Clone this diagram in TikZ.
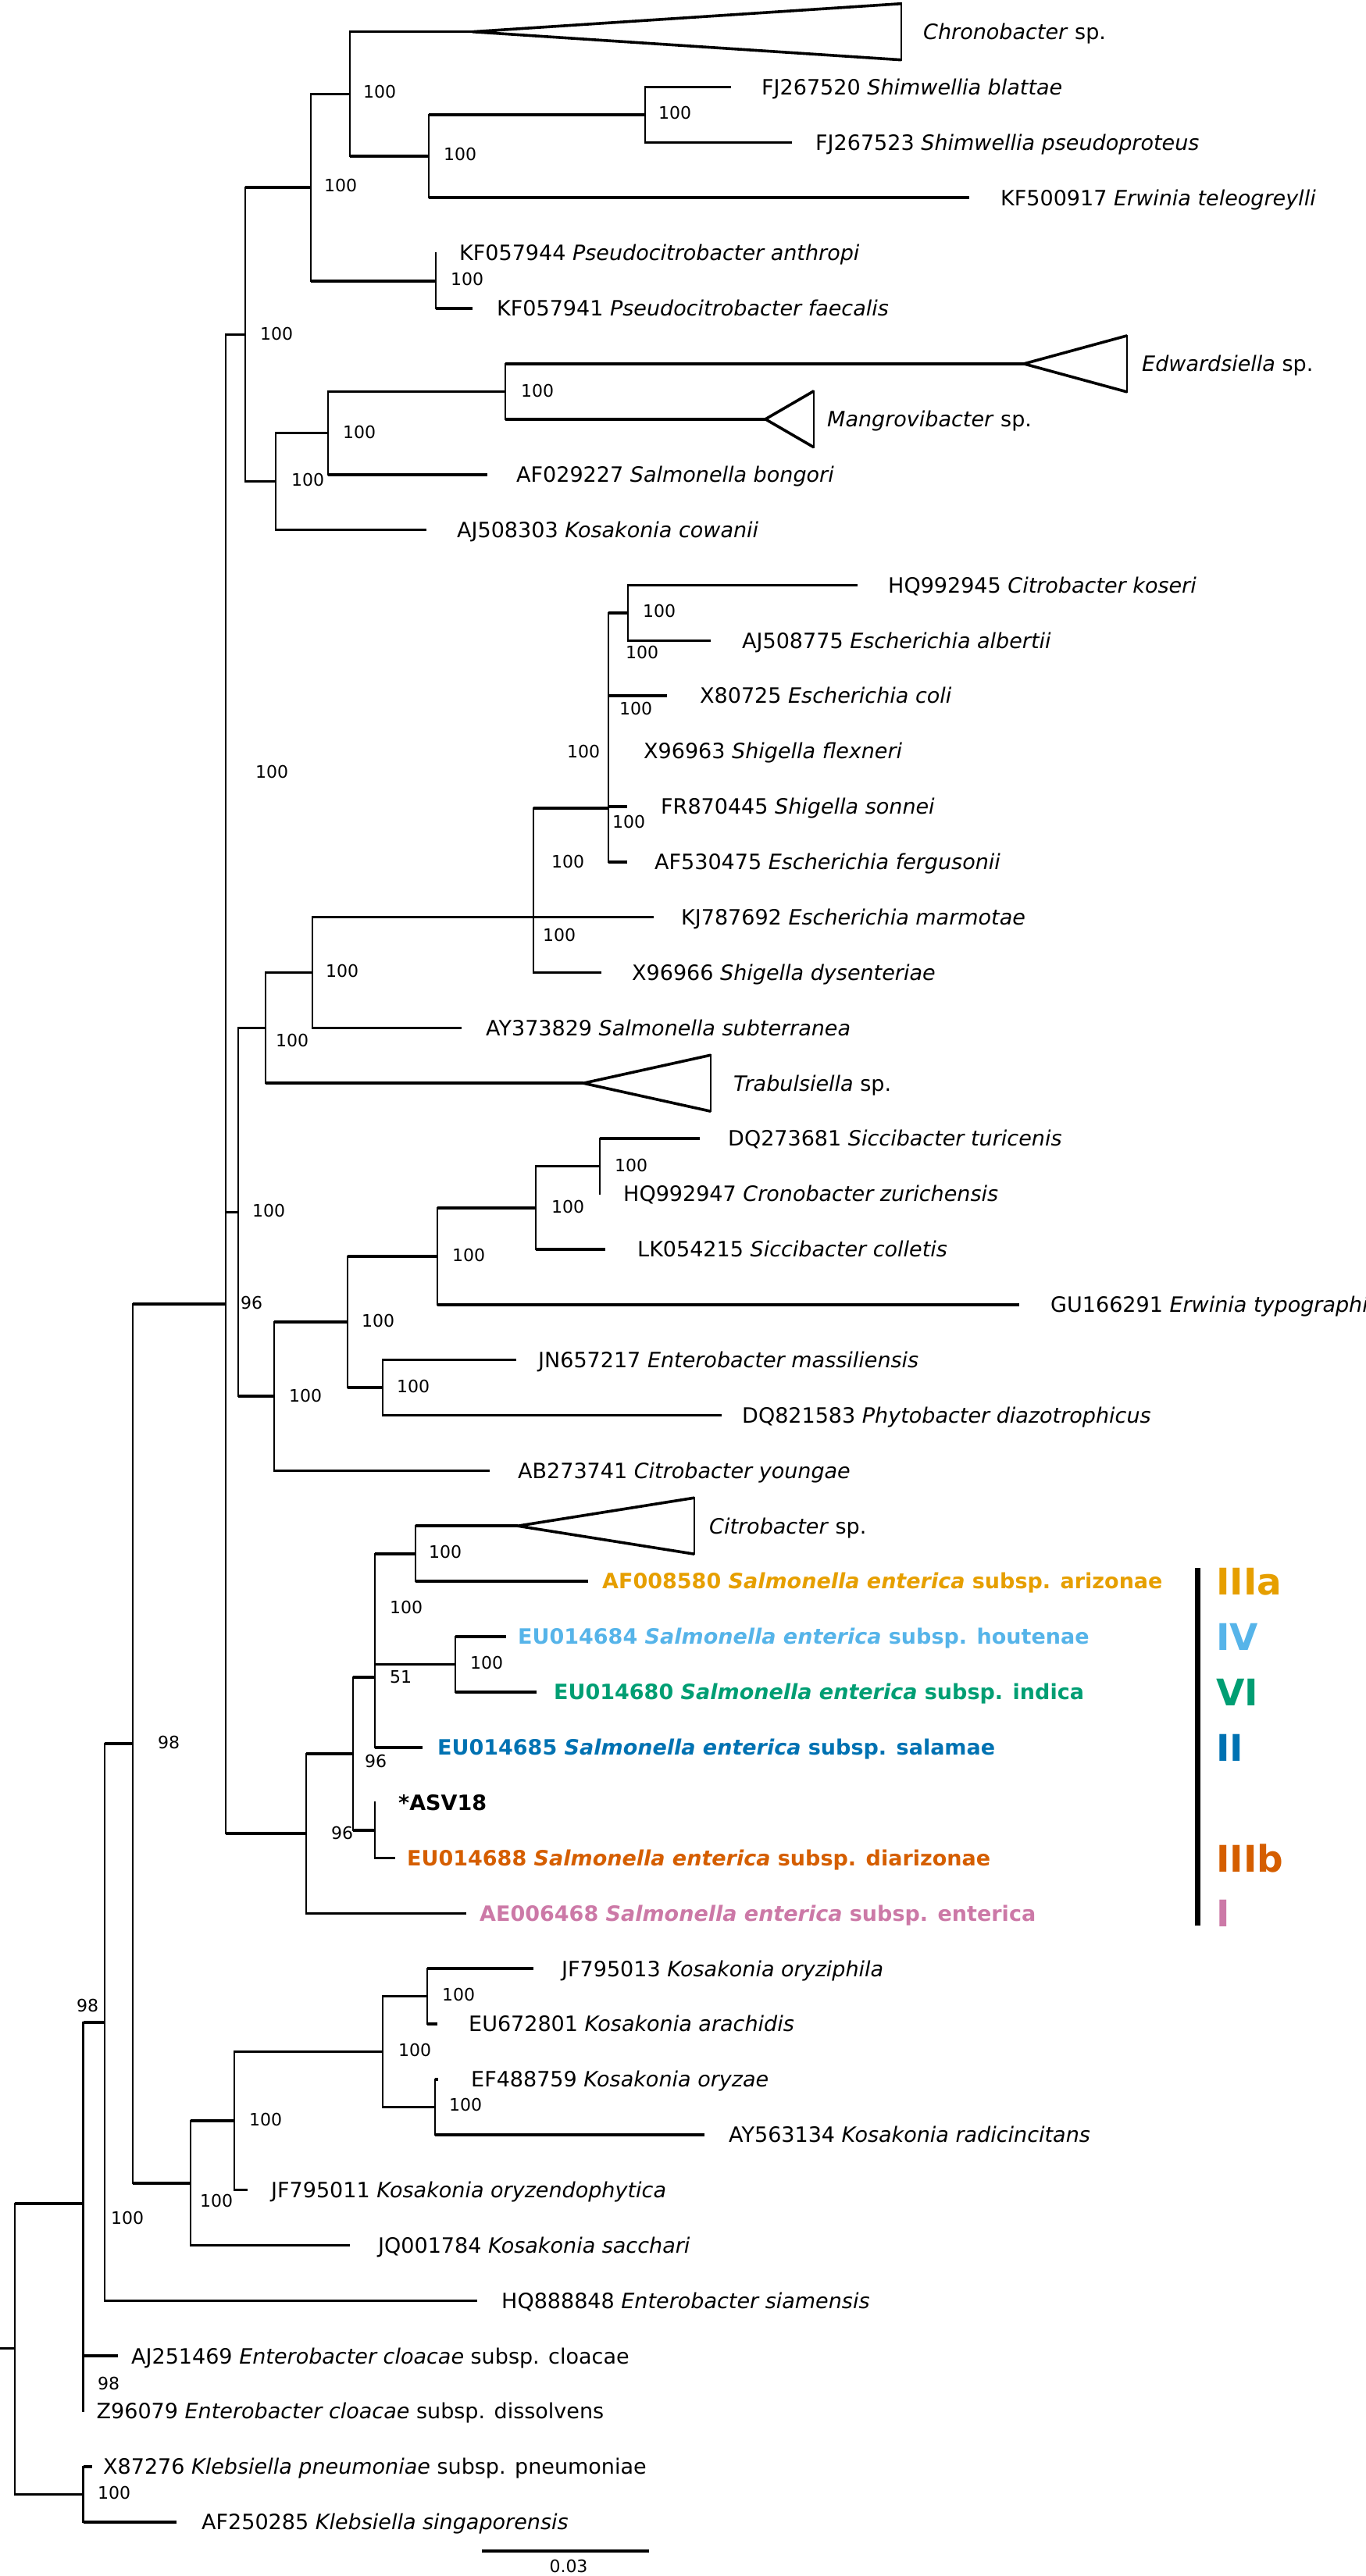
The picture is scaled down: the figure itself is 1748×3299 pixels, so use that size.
\documentclass[tikz,border=0pt]{standalone}
\usepackage{fontspec}
\setmainfont{DejaVu Sans}[ItalicFont={DejaVu Sans Oblique},BoldFont={DejaVu Sans Bold},BoldItalicFont={DejaVu Sans Bold Oblique}]
\usetikzlibrary{positioning}

\definecolor{cIIIa}{HTML}{E69F00}
\definecolor{cIV}{HTML}{56B4E9}
\definecolor{cVI}{HTML}{009E73}
\definecolor{cII}{HTML}{0072B2}
\definecolor{cIIIb}{HTML}{D55E00}
\definecolor{cI}{HTML}{CC79A7}

\newcommand\tipfont{\fontsize{27}{32}\selectfont}
\newcommand\bsfont{\fontsize{22}{26}\selectfont}
\newcommand\sent{\textit{Salmonella enterica} subsp.}

\tikzset{
  hbr/.style={line width=3.6pt},
  vbr/.style={line width=2.4pt,line cap=rect},
  tip/.style={anchor=base west,inner sep=0pt,yshift=-9.8pt,font=\tipfont},
  sal/.style={tip,font=\tipfont\bfseries},
  bs/.style={anchor=base west,inner sep=0pt,yshift=-8pt,font=\bsfont},
  grp/.style={anchor=base west,inner sep=0pt,yshift=-17pt,font=\fontsize{47}{52}\selectfont\bfseries},
}

\begin{document}
\begin{tikzpicture}[x=1pt,y=-1pt]
  \useasboundingbox (0,0) rectangle (1748,3299);

  % tips
  \coordinate (chronoB) at (1154,40.7);
  \coordinate (chronoA) at (605,40.7);
  \coordinate (FJ267520) at (936,111.6);
  \coordinate (FJ267523) at (1014,182.4);
  \coordinate (KF500917) at (1241,253.3);
  \coordinate (KF057944) at (558,324.2);
  \coordinate (KF057941) at (605,395.1);
  \coordinate (edwA) at (1311,465.9);
  \coordinate (edwB) at (1443,465.9);
  \coordinate (mangA) at (980,536.8);
  \coordinate (mangB) at (1042,536.8);
  \coordinate (AF029227) at (624,607.7);
  \coordinate (AJ508303) at (546,678.5);
  \coordinate (HQ992945) at (1098,749.4);
  \coordinate (AJ508775) at (910,820.3);
  \coordinate (X80725) at (854,891.1);
  \coordinate (X96963) at (779,962.0);
  \coordinate (FR870445) at (803,1032.9);
  \coordinate (AF530475) at (803,1103.8);
  \coordinate (KJ787692) at (837,1174.6);
  \coordinate (X96966) at (770,1245.5);
  \coordinate (AY373829) at (591,1316.4);
  \coordinate (trabA) at (747,1387.2);
  \coordinate (trabB) at (910,1387.2);
  \coordinate (DQ273681) at (896,1458.1);
  \coordinate (HQ992947) at (768,1529.0);
  \coordinate (LK054215) at (775,1599.8);
  \coordinate (GU166291) at (1305,1670.7);
  \coordinate (JN657217) at (661,1741.6);
  \coordinate (DQ821583) at (924,1812.5);
  \coordinate (AB273741) at (627,1883.3);
  \coordinate (citA) at (663,1954.2);
  \coordinate (citB) at (889,1954.2);
  \coordinate (AF008580) at (753,2025.1);
  \coordinate (EU014684) at (648,2095.9);
  \coordinate (EU014680) at (687,2166.8);
  \coordinate (EU014685) at (541,2237.7);
  \coordinate (ASV18) at (480,2308.5);
  \coordinate (EU014688) at (506,2379.4);
  \coordinate (AE006468) at (597,2450.3);
  \coordinate (JF795013) at (683,2521.2);
  \coordinate (EU672801) at (560,2592.0);
  \coordinate (EF488759) at (561,2662.9);
  \coordinate (AY563134) at (902,2733.8);
  \coordinate (JF795011) at (317,2804.6);
  \coordinate (JQ001784) at (448,2875.5);
  \coordinate (HQ888848) at (611,2946.4);
  \coordinate (AJ251469) at (151,3017.2);
  \coordinate (Z96079) at (106.5,3088.1);
  \coordinate (X87276) at (118,3159.0);
  \coordinate (AF250285) at (226,3229.9);

  % inner nodes
  \coordinate (nShim2) at (826,147.0);
  \coordinate (nShim1) at (549,200.2);
  \coordinate (nChro) at (448,120.4);
  \coordinate (nPseu) at (558,359.7);
  \coordinate (nUp2) at (398,240.0);
  \coordinate (nEdw3) at (647,501.4);
  \coordinate (nEdw2) at (420,554.5);
  \coordinate (nEdw1) at (353,616.5);
  \coordinate (nUp1) at (314,428.3);
  \coordinate (nEsc5) at (804,784.9);
  \coordinate (nEsc4) at (779,1035);
  \coordinate (nEsc3) at (683,1174.6);
  \coordinate (nEsc2) at (400,1245.5);
  \coordinate (nEsc1) at (340,1316.4);
  \coordinate (nSic5) at (768,1493.6);
  \coordinate (nSic4) at (686,1546.7);
  \coordinate (nSic3) at (560,1608.7);
  \coordinate (nEbm) at (490,1777.1);
  \coordinate (nSic2) at (445,1692.9);
  \coordinate (nSic1) at (351,1788.1);
  \coordinate (nMid) at (305,1552.3);
  \coordinate (nSal4) at (532,1989.7);
  \coordinate (nSal5) at (583,2131.4);
  \coordinate (nSal3) at (480,2148);
  \coordinate (nSal6) at (480,2344.0);
  \coordinate (nSal2) at (452,2246);
  \coordinate (nSal1) at (392,2348.2);
  \coordinate (nBig) at (289,1670);
  \coordinate (nKos4) at (547,2556.6);
  \coordinate (nKos5) at (557,2698.4);
  \coordinate (nKos3) at (490,2627.5);
  \coordinate (nKos2) at (300,2716.1);
  \coordinate (nKos1) at (244,2795.8);
  \coordinate (nEnt3) at (170,2232.9);
  \coordinate (nEnt2) at (134,2590);
  \coordinate (nEnt1) at (106.5,2821.7);
  \coordinate (nKleb) at (106.5,3194.5);
  \coordinate (nRoot) at (19,3007.5);

  % branches
  \draw[hbr] (nRoot) -- ++(-19,0);
  \draw[vbr] (nRoot |- nEnt1) -- (nRoot |- nKleb);
  \draw[hbr] (nRoot |- nEnt1) -- (nEnt1) (nRoot |- nKleb) -- (nKleb);
  \draw[vbr] (nKleb |- X87276) -- (nKleb |- AF250285);
  \draw[hbr] (nKleb |- X87276) -- (X87276) (nKleb |- AF250285) -- (AF250285);
  \draw[vbr] (nEnt1 |- nEnt2) -- (nEnt1 |- Z96079);
  \draw[hbr] (nEnt1 |- nEnt2) -- (nEnt2) (nEnt1 |- AJ251469) -- (AJ251469);
  \draw[vbr] (nEnt2 |- nEnt3) -- (nEnt2 |- HQ888848);
  \draw[hbr] (nEnt2 |- nEnt3) -- (nEnt3) (nEnt2 |- HQ888848) -- (HQ888848);
  \draw[vbr] (nEnt3 |- nBig) -- (nEnt3 |- nKos1);
  \draw[hbr] (nEnt3 |- nBig) -- (nBig) (nEnt3 |- nKos1) -- (nKos1);
  \draw[vbr] (nKos1 |- nKos2) -- (nKos1 |- JQ001784);
  \draw[hbr] (nKos1 |- nKos2) -- (nKos2) (nKos1 |- JQ001784) -- (JQ001784);
  \draw[vbr] (nKos2 |- nKos3) -- (nKos2 |- JF795011);
  \draw[hbr] (nKos2 |- nKos3) -- (nKos3) (nKos2 |- JF795011) -- (JF795011);
  \draw[vbr] (nKos3 |- nKos4) -- (nKos3 |- nKos5);
  \draw[hbr] (nKos3 |- nKos4) -- (nKos4) (nKos3 |- nKos5) -- (nKos5);
  \draw[vbr] (nKos4 |- JF795013) -- (nKos4 |- EU672801);
  \draw[hbr] (nKos4 |- JF795013) -- (JF795013) (nKos4 |- EU672801) -- (EU672801);
  \draw[vbr] (nKos5 |- EF488759) -- (nKos5 |- AY563134);
  \draw[hbr] (nKos5 |- EF488759) -- (EF488759) (nKos5 |- AY563134) -- (AY563134);
  \draw[vbr] (nBig |- nUp1) -- (nBig |- nSal1);
  \draw[hbr] (nBig |- nUp1) -- (nUp1) (nBig |- nMid) -- (nMid) (nBig |- nSal1) -- (nSal1);
  \draw[vbr] (nUp1 |- nUp2) -- (nUp1 |- nEdw1);
  \draw[hbr] (nUp1 |- nUp2) -- (nUp2) (nUp1 |- nEdw1) -- (nEdw1);
  \draw[vbr] (nUp2 |- nChro) -- (nUp2 |- nPseu);
  \draw[hbr] (nUp2 |- nChro) -- (nChro) (nUp2 |- nPseu) -- (nPseu);
  \draw[vbr] (nChro |- chronoA) -- (nChro |- nShim1);
  \draw[hbr] (nChro |- chronoA) -- (chronoA) (nChro |- nShim1) -- (nShim1);
  \draw[vbr] (nShim1 |- nShim2) -- (nShim1 |- KF500917);
  \draw[hbr] (nShim1 |- nShim2) -- (nShim2) (nShim1 |- KF500917) -- (KF500917);
  \draw[vbr] (nShim2 |- FJ267520) -- (nShim2 |- FJ267523);
  \draw[hbr] (nShim2 |- FJ267520) -- (FJ267520) (nShim2 |- FJ267523) -- (FJ267523);
  \draw[vbr] (nPseu |- KF057944) -- (nPseu |- KF057941);
  \draw[hbr] (nPseu |- KF057941) -- (KF057941);
  \draw[vbr] (nEdw1 |- nEdw2) -- (nEdw1 |- AJ508303);
  \draw[hbr] (nEdw1 |- nEdw2) -- (nEdw2) (nEdw1 |- AJ508303) -- (AJ508303);
  \draw[vbr] (nEdw2 |- nEdw3) -- (nEdw2 |- AF029227);
  \draw[hbr] (nEdw2 |- nEdw3) -- (nEdw3) (nEdw2 |- AF029227) -- (AF029227);
  \draw[vbr] (nEdw3 |- edwA) -- (nEdw3 |- mangA);
  \draw[hbr] (nEdw3 |- edwA) -- (edwA) (nEdw3 |- mangA) -- (mangA);
  \draw[vbr] (nMid |- nEsc1) -- (nMid |- nSic1);
  \draw[hbr] (nMid |- nEsc1) -- (nEsc1) (nMid |- nSic1) -- (nSic1);
  \draw[vbr] (nEsc1 |- nEsc2) -- (nEsc1 |- trabA);
  \draw[hbr] (nEsc1 |- nEsc2) -- (nEsc2) (nEsc1 |- trabA) -- (trabA);
  \draw[vbr] (nEsc2 |- nEsc3) -- (nEsc2 |- AY373829);
  \draw[hbr] (nEsc2 |- nEsc3) -- (nEsc3) (nEsc2 |- AY373829) -- (AY373829);
  \draw[vbr] (nEsc3 |- nEsc4) -- (nEsc3 |- X96966);
  \draw[hbr] (nEsc3 |- nEsc4) -- (nEsc4) (nEsc3 |- KJ787692) -- (KJ787692) (nEsc3 |- X96966) -- (X96966);
  \draw[vbr] (nEsc4 |- nEsc5) -- (nEsc4 |- AF530475);
  \draw[hbr] (nEsc4 |- nEsc5) -- (nEsc5) (nEsc4 |- X80725) -- (X80725) (nEsc4 |- FR870445) -- (FR870445) (nEsc4 |- AF530475) -- (AF530475);
  \draw[vbr] (nEsc5 |- HQ992945) -- (nEsc5 |- AJ508775);
  \draw[hbr] (nEsc5 |- HQ992945) -- (HQ992945) (nEsc5 |- AJ508775) -- (AJ508775);
  \draw[vbr] (nSic1 |- nSic2) -- (nSic1 |- AB273741);
  \draw[hbr] (nSic1 |- nSic2) -- (nSic2) (nSic1 |- AB273741) -- (AB273741);
  \draw[vbr] (nSic2 |- nSic3) -- (nSic2 |- nEbm);
  \draw[hbr] (nSic2 |- nSic3) -- (nSic3) (nSic2 |- nEbm) -- (nEbm);
  \draw[vbr] (nSic3 |- nSic4) -- (nSic3 |- GU166291);
  \draw[hbr] (nSic3 |- nSic4) -- (nSic4) (nSic3 |- GU166291) -- (GU166291);
  \draw[vbr] (nSic4 |- nSic5) -- (nSic4 |- LK054215);
  \draw[hbr] (nSic4 |- nSic5) -- (nSic5) (nSic4 |- LK054215) -- (LK054215);
  \draw[vbr] (nSic5 |- DQ273681) -- (nSic5 |- HQ992947);
  \draw[hbr] (nSic5 |- DQ273681) -- (DQ273681);
  \draw[vbr] (nEbm |- JN657217) -- (nEbm |- DQ821583);
  \draw[hbr] (nEbm |- JN657217) -- (JN657217) (nEbm |- DQ821583) -- (DQ821583);
  \draw[vbr] (nSal1 |- nSal2) -- (nSal1 |- AE006468);
  \draw[hbr] (nSal1 |- nSal2) -- (nSal2) (nSal1 |- AE006468) -- (AE006468);
  \draw[vbr] (nSal2 |- nSal3) -- (nSal2 |- nSal6);
  \draw[hbr] (nSal2 |- nSal3) -- (nSal3) (nSal2 |- nSal6) -- (nSal6);
  \draw[vbr] (nSal3 |- nSal4) -- (nSal3 |- EU014685);
  \draw[hbr] (nSal3 |- nSal4) -- (nSal4) (nSal3 |- nSal5) -- (nSal5) (nSal3 |- EU014685) -- (EU014685);
  \draw[vbr] (nSal4 |- citA) -- (nSal4 |- AF008580);
  \draw[hbr] (nSal4 |- citA) -- (citA) (nSal4 |- AF008580) -- (AF008580);
  \draw[vbr] (nSal5 |- EU014684) -- (nSal5 |- EU014680);
  \draw[hbr] (nSal5 |- EU014684) -- (EU014684) (nSal5 |- EU014680) -- (EU014680);
  \draw[vbr] (nSal6 |- ASV18) -- (nSal6 |- EU014688);
  \draw[hbr] (nSal6 |- EU014688) -- (EU014688);

  % collapsed clades
  \draw[hbr] ([yshift=36pt]chronoB) -- (chronoA) -- ([yshift=-36pt]chronoB);
  \draw[vbr] ([yshift=36pt]chronoB) -- ([yshift=-36pt]chronoB);
  \draw[hbr] ([yshift=36pt]edwB) -- (edwA) -- ([yshift=-36pt]edwB);
  \draw[vbr] ([yshift=36pt]edwB) -- ([yshift=-36pt]edwB);
  \draw[hbr] ([yshift=36pt]mangB) -- (mangA) -- ([yshift=-36pt]mangB);
  \draw[vbr] ([yshift=36pt]mangB) -- ([yshift=-36pt]mangB);
  \draw[hbr] ([yshift=36pt]trabB) -- (trabA) -- ([yshift=-36pt]trabB);
  \draw[vbr] ([yshift=36pt]trabB) -- ([yshift=-36pt]trabB);
  \draw[hbr] ([yshift=36pt]citB) -- (citA) -- ([yshift=-36pt]citB);
  \draw[vbr] ([yshift=36pt]citB) -- ([yshift=-36pt]citB);

  % tip labels
  \node[right=28pt of chronoB,tip] (lchrono) {\textit{Chronobacter} sp.};
  \node[right=39pt of FJ267520,tip] (lFJ267520) {FJ267520 \textit{Shimwellia blattae}};
  \node[right=30pt of FJ267523,tip] (lFJ267523) {FJ267523 \textit{Shimwellia pseudoproteus}};
  \node[right=40pt of KF500917,tip] (lKF500917) {KF500917 \textit{Erwinia teleogreylli}};
  \node[right=30pt of KF057944,tip] (lKF057944) {KF057944 \textit{Pseudocitrobacter anthropi}};
  \node[right=31pt of KF057941,tip] (lKF057941) {KF057941 \textit{Pseudocitrobacter faecalis}};
  \node[right=19pt of edwB,tip] (ledw) {\textit{Edwardsiella} sp.};
  \node[right=17pt of mangB,tip] (lmang) {\textit{Mangrovibacter} sp.};
  \node[right=37pt of AF029227,tip] (lAF029227) {AF029227 \textit{Salmonella bongori}};
  \node[right=39pt of AJ508303,tip] (lAJ508303) {AJ508303 \textit{Kosakonia cowanii}};
  \node[right=39pt of HQ992945,tip] (lHQ992945) {HQ992945 \textit{Citrobacter koseri}};
  \node[right=40pt of AJ508775,tip] (lAJ508775) {AJ508775 \textit{Escherichia albertii}};
  \node[right=42pt of X80725,tip] (lX80725) {X80725 \textit{Escherichia coli}};
  \node[right=45pt of X96963,tip] (lX96963) {X96963 \textit{Shigella flexneri}};
  \node[right=43pt of FR870445,tip] (lFR870445) {FR870445 \textit{Shigella sonnei}};
  \node[right=35pt of AF530475,tip] (lAF530475) {AF530475 \textit{Escherichia fergusonii}};
  \node[right=35pt of KJ787692,tip] (lKJ787692) {KJ787692 \textit{Escherichia marmotae}};
  \node[right=39pt of X96966,tip] (lX96966) {X96966 \textit{Shigella dysenteriae}};
  \node[right=31pt of AY373829,tip] (lAY373829) {AY373829 \textit{Salmonella subterranea}};
  \node[right=29pt of trabB,tip] (ltrab) {\textit{Trabulsiella} sp.};
  \node[right=36pt of DQ273681,tip] (lDQ273681) {DQ273681 \textit{Siccibacter turicenis}};
  \node[right=30pt of HQ992947,tip] (lHQ992947) {HQ992947 \textit{Cronobacter zurichensis}};
  \node[right=41pt of LK054215,tip] (lLK054215) {LK054215 \textit{Siccibacter colletis}};
  \node[right=40pt of GU166291,tip] (lGU166291) {GU166291 \textit{Erwinia typographi}};
  \node[right=28pt of JN657217,tip] (lJN657217) {JN657217 \textit{Enterobacter massiliensis}};
  \node[right=26pt of DQ821583,tip] (lDQ821583) {DQ821583 \textit{Phytobacter diazotrophicus}};
  \node[right=36pt of AB273741,tip] (lAB273741) {AB273741 \textit{Citrobacter youngae}};
  \node[right=19pt of citB,tip] (lcit) {\textit{Citrobacter} sp.};
  \node[right=18pt of AF008580,sal,text=cIIIa] (lAF008580) {AF008580 \sent{} arizonae};
  \node[right=15pt of EU014684,sal,text=cIV] (lEU014684) {EU014684 \sent{} houtenae};
  \node[right=22pt of EU014680,sal,text=cVI] (lEU014680) {EU014680 \sent{} indica};
  \node[right=19pt of EU014685,sal,text=cII] (lEU014685) {EU014685 \sent{} salamae};
  \node[right=30pt of ASV18,sal] (lASV18) {*ASV18};
  \node[right=15pt of EU014688,sal,text=cIIIb] (lEU014688) {EU014688 \sent{} diarizonae};
  \node[right=17pt of AE006468,sal,text=cI] (lAE006468) {AE006468 \sent{} enterica};
  \node[right=36pt of JF795013,tip] (lJF795013) {JF795013 \textit{Kosakonia oryziphila}};
  \node[right=40pt of EU672801,tip] (lEU672801) {EU672801 \textit{Kosakonia arachidis}};
  \node[right=42pt of EF488759,tip] (lEF488759) {EF488759 \textit{Kosakonia oryzae}};
  \node[right=31pt of AY563134,tip] (lAY563134) {AY563134 \textit{Kosakonia radicincitans}};
  \node[right=30pt of JF795011,tip] (lJF795011) {JF795011 \textit{Kosakonia oryzendophytica}};
  \node[right=36pt of JQ001784,tip] (lJQ001784) {JQ001784 \textit{Kosakonia sacchari}};
  \node[right=31pt of HQ888848,tip] (lHQ888848) {HQ888848 \textit{Enterobacter siamensis}};
  \node[right=17pt of AJ251469,tip] (lAJ251469) {AJ251469 \textit{Enterobacter cloacae} subsp. cloacae};
  \node[right=17pt of Z96079,tip] (lZ96079) {Z96079 \textit{Enterobacter cloacae} subsp. dissolvens};
  \node[right=14pt of X87276,tip] (lX87276) {X87276 \textit{Klebsiella pneumoniae} subsp. pneumoniae};
  \node[right=32pt of AF250285,tip] (lAF250285) {AF250285 \textit{Klebsiella singaporensis}};

  % support values
  \node[bs] (b1) at (465,118) {100};
  \node[bs] (b2) at (843,145) {100};
  \node[bs] (b3) at (568,198) {100};
  \node[bs] (b4) at (415,238) {100};
  \node[bs] (b5) at (577,358) {100};
  \node[bs] (b6) at (333,427) {100};
  \node[bs] (b7) at (667,500) {100};
  \node[bs] (b8) at (439,553) {100};
  \node[bs] (b9) at (373,614) {100};
  \node[bs] (b10) at (823,782) {100};
  \node[bs] (b11) at (801,835) {100};
  \node[bs] (b12) at (793,907) {100};
  \node[bs] (b13) at (726,962) {100};
  \node[bs] (b14) at (327,988) {100};
  \node[bs] (b15) at (784,1052) {100};
  \node[bs] (b16) at (706,1103) {100};
  \node[bs] (b17) at (695,1197) {100};
  \node[bs] (b18) at (417,1243) {100};
  \node[bs] (b19) at (353,1332) {100};
  \node[bs] (b20) at (787,1492) {100};
  \node[bs] (b21) at (706,1545) {100};
  \node[bs] (b22) at (323,1550) {100};
  \node[bs] (b23) at (579,1607) {100};
  \node[bs] (b24) at (308,1668) {96};
  \node[bs] (b25) at (463,1691) {100};
  \node[bs] (b26) at (508,1775) {100};
  \node[bs] (b27) at (370,1787) {100};
  \node[bs] (b28) at (549,1987) {100};
  \node[bs] (b29) at (499,2058) {100};
  \node[bs] (b30) at (602,2129) {100};
  \node[bs] (b31) at (499,2147) {51};
  \node[bs] (b32) at (202,2231) {98};
  \node[bs] (b33) at (467,2255) {96};
  \node[bs] (b34) at (424,2347) {96};
  \node[bs] (b35) at (566,2554) {100};
  \node[bs] (b36) at (98,2568) {98};
  \node[bs] (b37) at (510,2625) {100};
  \node[bs] (b38) at (575,2695) {100};
  \node[bs] (b39) at (319,2714) {100};
  \node[bs] (b40) at (256,2818) {100};
  \node[bs] (b41) at (142,2840) {100};
  \node[bs] (b42) at (125,3052) {98};
  \node[bs] (b43) at (125,3192) {100};

  % subspecies groups
  \coordinate (grpT) at (1533,2008);
  \coordinate (grpB) at (1533,2466);
  \draw[line width=7pt] (grpT) -- (grpB);
  \node[grp,text=cIIIa] (gIIIa) at (1557,2025) {IIIa};
  \node[grp,text=cIV] (gIV) at (1557,2096) {IV};
  \node[grp,text=cVI] (gVI) at (1557,2167) {VI};
  \node[grp,text=cII] (gII) at (1557,2238) {II};
  \node[grp,text=cIIIb] (gIIIb) at (1557,2380) {IIIb};
  \node[grp,text=cI] (gI) at (1557,2450) {I};

  % scale bar
  \coordinate (sb1) at (617,3266.7);
  \coordinate (sb2) at (831,3266.7);
  \draw[line width=3.8pt] (sb1) -- (sb2);
  \node[anchor=base,inner sep=0pt,font=\bsfont] (sbl) at (728,3294) {0.03};
\end{tikzpicture}
\end{document}
